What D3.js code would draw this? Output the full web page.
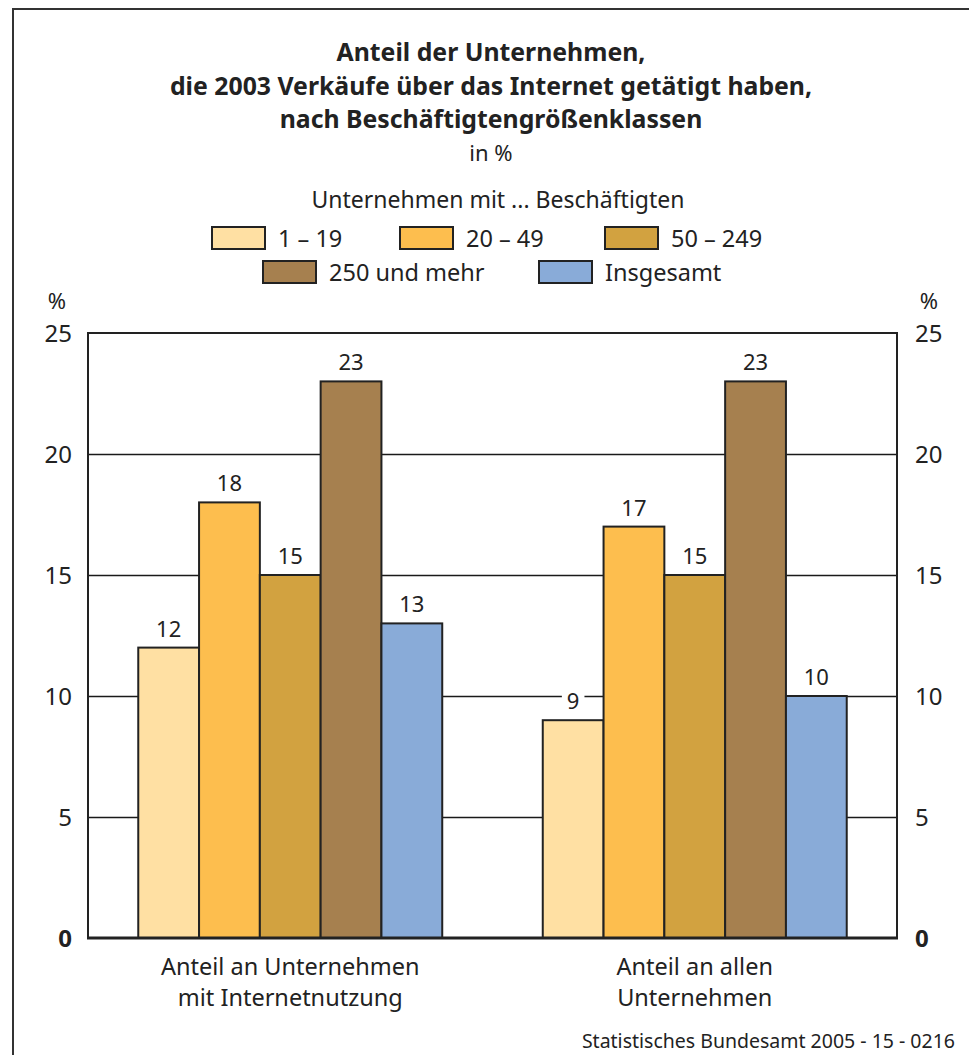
<!DOCTYPE html>
<html><head><meta charset="utf-8">
<script src="https://cdn.jsdelivr.net/npm/d3@7"></script>
<style>
html,body{margin:0;padding:0;background:#fff;}
svg text{font-family:"Noto Sans","DejaVu Sans",sans-serif;fill:#222;}
</style></head>
<body><svg id="c" width="969" height="1055"></svg>
<script>
const titleLines = ["Anteil der Unternehmen,", "die 2003 Verkäufe über das Internet getätigt haben,", "nach Beschäftigtengrößenklassen"];
const subtitle = "in %";
const legendTitle = "Unternehmen mit ... Beschäftigten";
const categories = [["Anteil an Unternehmen","mit Internetnutzung"],["Anteil an allen","Unternehmen"]];
const series = ["1 – 19","20 – 49","50 – 249","250 und mehr","Insgesamt"];
const colors = ["#FFE0A3","#FDBE4E","#D2A240","#A6804F","#89ABD8"];
const values = [[12,18,15,23,13],[9,17,15,23,10]];
const yTicks = [0,5,10,15,20,25];
const source = "Statistisches Bundesamt 2005 - 15 - 0216";

const svg = d3.select("#c");
// outer frame
svg.append("path").attr("d","M13,1060 V9 H975").attr("fill","none").attr("stroke","#333").attr("stroke-width",2);

// title
const tb = [61,95,128];
titleLines.forEach((t,i)=>{
  svg.append("text").attr("x",491).attr("y",tb[i]).attr("text-anchor","middle")
    .attr("font-size",24.8).attr("font-weight","bold").text(t);
});
svg.append("text").attr("x",491).attr("y",161).attr("text-anchor","middle").attr("font-size",22).text(subtitle);
svg.append("text").attr("x",498).attr("y",208).attr("text-anchor","middle").attr("font-size",23).text(legendTitle);

// legend
const legPos = [[212,238],[400,238],[605,238],[263,272],[539,272]];
series.forEach((s,i)=>{
  const [lx,ly]=legPos[i];
  svg.append("rect").attr("x",lx).attr("y",ly-11).attr("width",53).attr("height",22)
    .attr("fill",colors[i]).attr("stroke","#222").attr("stroke-width",2);
  svg.append("text").attr("x",lx+66).attr("y",ly+8.5).attr("font-size",23.5).text(s);
});

const L=88,R=897,T=333,B=938;
const y = d3.scaleLinear().domain([0,25]).range([B,T]);
const x0 = d3.scaleBand().domain(d3.range(categories.length)).range([L,R]).paddingInner(0.2485).paddingOuter(0.12425);
const x1 = d3.scaleBand().domain(d3.range(series.length)).range([0,x0.bandwidth()]);

// gridlines
svg.append("g").selectAll("line").data(yTicks.filter(d=>d>0&&d<25)).join("line")
  .attr("x1",L).attr("x2",R).attr("y1",d=>Math.round(y(d))+0.5).attr("y2",d=>Math.round(y(d))+0.5)
  .attr("stroke","#1a1a1a").attr("stroke-width",1.3);

// axes labels
const axL = d3.axisLeft(y).tickValues(yTicks).tickSize(0).tickPadding(16);
const gl = svg.append("g").attr("transform",`translate(${L},0)`).call(axL);
gl.select(".domain").remove();
gl.selectAll("text").attr("font-size",24).attr("fill","#222").attr("dy","0.35em")
  .style("font-family","'Noto Sans',sans-serif").attr("font-weight",d=>d===0?"bold":null);
const axR = d3.axisRight(y).tickValues(yTicks).tickSize(0).tickPadding(18);
const gr = svg.append("g").attr("transform",`translate(${R},0)`).call(axR);
gr.select(".domain").remove();
gr.selectAll("text").attr("font-size",24).attr("fill","#222").attr("dy","0.35em")
  .style("font-family","'Noto Sans',sans-serif").attr("font-weight",d=>d===0?"bold":null);
svg.append("text").attr("x",57).attr("y",309).attr("text-anchor","middle").attr("font-size",22).text("%");
svg.append("text").attr("x",929).attr("y",309).attr("text-anchor","middle").attr("font-size",22).text("%");

// bars
const groups = svg.append("g").selectAll("g").data(values).join("g")
  .attr("transform",(d,i)=>`translate(${x0(i)},0)`);
groups.selectAll("rect").data(d=>d).join("rect")
  .attr("x",(d,j)=>x1(j)).attr("width",x1.bandwidth())
  .attr("y",d=>y(d)).attr("height",d=>B-y(d))
  .attr("fill",(d,j)=>colors[j]).attr("stroke","#222").attr("stroke-width",2);
// value labels
groups.each(function(row){
  const g=d3.select(this);
  row.forEach((v,j)=>{
    const cx=x1(j)+x1.bandwidth()/2, ty=y(v)-11;
    const t=g.append("text").attr("x",cx).attr("y",ty).attr("text-anchor","middle").attr("font-size",22).text(v);
    const bb=t.node().getBBox();
    g.insert("rect","text").attr("x",bb.x-5).attr("y",bb.y+3).attr("width",bb.width+10).attr("height",bb.height-3).attr("fill","#fff");
  });
});
// plot frame
svg.append("path").attr("d",`M${L},${B} V${T} H${R} V${B}`).attr("fill","none").attr("stroke","#222").attr("stroke-width",2);
svg.append("line").attr("x1",L-1).attr("x2",R+1).attr("y1",B).attr("y2",B).attr("stroke","#222").attr("stroke-width",3);

// category labels
categories.forEach((c,i)=>{
  const cx=x0(i)+x0.bandwidth()/2;
  c.forEach((ln,k)=>{
    svg.append("text").attr("x",cx).attr("y",975+k*31).attr("text-anchor","middle").attr("font-size",23.5).text(ln);
  });
});
svg.append("text").attr("x",955).attr("y",1048).attr("text-anchor","end").attr("font-size",19.5).text(source);
</script></body></html>
